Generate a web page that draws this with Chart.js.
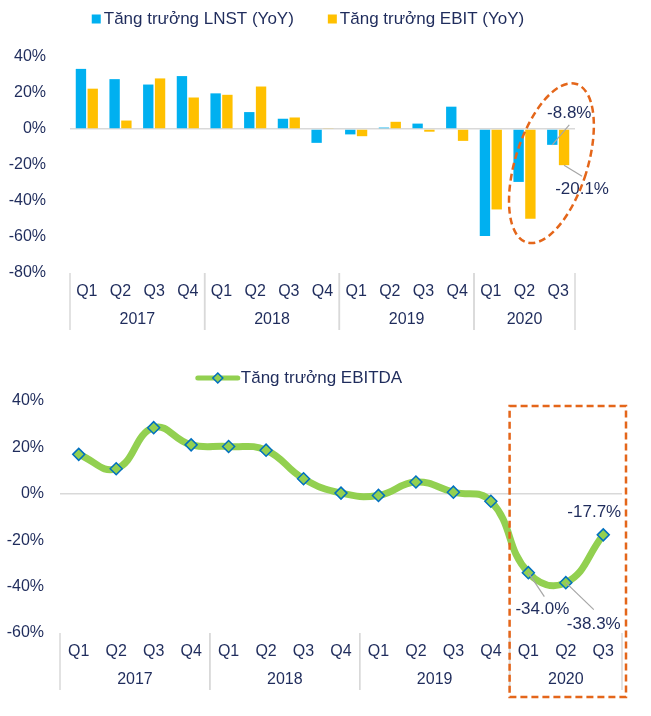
<!DOCTYPE html>
<html>
<head>
<meta charset="utf-8">
<script src="https://cdn.jsdelivr.net/npm/chart.js@4.4.0/dist/chart.umd.min.js"></script>
<style>
  body { margin: 0; background: #fff; }
  canvas { display: block; }
</style>
</head>
<body>
<canvas id="topChart" width="651" height="340"></canvas>
<canvas id="bottomChart" width="651" height="376"></canvas>
<script>
// data
const quarters = ['Q1', 'Q2', 'Q3', 'Q4', 'Q1', 'Q2', 'Q3', 'Q4', 'Q1', 'Q2', 'Q3', 'Q4', 'Q1', 'Q2', 'Q3'];
const years = ['2017', '2018', '2019', '2020'];
const quartersPerYear = [4, 4, 4, 3];
const lnstGrowth = [33.4, 27.7, 24.7, 29.4, 19.8, 9.4, 5.7, -7.7, -3.0, 0.8, 3.0, 12.4, -59.4, -29.4, -8.8];
const ebitGrowth = [22.4, 4.7, 28.1, 17.5, 19.0, 23.6, 6.4, 0.5, -4.0, 4.0, -1.5, -6.6, -44.7, -49.8, -20.1];
const ebitdaGrowth = [17.0, 10.8, 28.5, 21.1, 20.4, 18.8, 6.5, 0.3, -0.7, 5.1, 0.7, -3.2, -34.0, -38.3, -17.7];
const topTicks = [-80, -60, -40, -20, 0, 20, 40];
const bottomTicks = [-60, -40, -20, 0, 20, 40];

const FONT = "'Liberation Sans', Arial, sans-serif";
const NAVY = '#1f2c5c';
const BLUE = '#00b0f0';
const YELLOW = '#ffc000';
const GREEN = '#92d050';
const ORANGE = '#e4661a';

// year row under the quarter labels, with separators
const yearGroups = {
  id: 'yearGroups',
  afterDraw(chart) {
    const x = chart.scales.x;
    const area = chart.chartArea;
    const ctx = chart.ctx;
    const half = (x.getPixelForValue(1) - x.getPixelForValue(0)) / 2;
    ctx.save();
    ctx.strokeStyle = '#d9d9d9';
    ctx.lineWidth = 1.5;
    ctx.fillStyle = NAVY;
    ctx.font = '16px ' + FONT;
    ctx.textAlign = 'center';
    ctx.textBaseline = 'middle';
    let start = 0;
    years.forEach((y, i) => {
      const end = start + quartersPerYear[i] - 1;
      const l = x.getPixelForValue(start) - half;
      const r = x.getPixelForValue(end) + half;
      [l, r].forEach(px => {
        ctx.beginPath();
        ctx.moveTo(px, area.bottom);
        ctx.lineTo(px, area.bottom + 57);
        ctx.stroke();
      });
      ctx.fillText(y, (l + r) / 2, area.bottom + 47);
      start = end + 1;
    });
    ctx.restore();
  }
};

// value labels with leader lines
const valueLabels = {
  id: 'valueLabels',
  afterDatasetsDraw(chart, args, opts) {
    const ctx = chart.ctx;
    ctx.save();
    ctx.font = '17px ' + FONT;
    ctx.fillStyle = NAVY;
    ctx.textAlign = 'center';
    ctx.textBaseline = 'middle';
    ctx.strokeStyle = '#a6a6a6';
    ctx.lineWidth = 1.2;
    (opts.items || []).forEach(it => {
      const el = chart.getDatasetMeta(it.ds).data[it.i];
      const v = chart.data.datasets[it.ds].data[it.i];
      if (it.leader) {
        ctx.beginPath();
        ctx.moveTo(el.x, el.y);
        ctx.lineTo(el.x + it.leader[0], el.y + it.leader[1]);
        ctx.stroke();
      }
      ctx.fillText(v.toFixed(1) + '%', el.x + it.dx, el.y + it.dy);
    });
    ctx.restore();
  }
};

// custom legend row
const legendRow = {
  id: 'legendRow',
  afterDraw(chart, args, opts) {
    const ctx = chart.ctx;
    ctx.save();
    ctx.font = '17px ' + FONT;
    ctx.textBaseline = 'middle';
    ctx.fillStyle = NAVY;
    const items = chart.data.datasets.map(d => ({ d, w: ctx.measureText(d.label).width }));
    const symW = opts.symbolWidth, gap = opts.symbolGap, itemGap = opts.itemGap;
    let total = items.reduce((s, it) => s + symW + gap + it.w, 0) + itemGap * (items.length - 1);
    let x = opts.centerX - total / 2;
    const y = opts.y;
    items.forEach(it => {
      if (chart.config.type === 'bar') {
        ctx.fillStyle = it.d.backgroundColor;
        ctx.fillRect(x, y - 4.5, 9, 9);
      } else {
        ctx.strokeStyle = it.d.borderColor;
        ctx.lineWidth = 5;
        ctx.lineCap = 'round';
        ctx.beginPath();
        ctx.moveTo(x + 2, y);
        ctx.lineTo(x + symW - 2, y);
        ctx.stroke();
        ctx.beginPath();
        ctx.moveTo(x + symW / 2, y - 5);
        ctx.lineTo(x + symW / 2 + 5, y);
        ctx.lineTo(x + symW / 2, y + 5);
        ctx.lineTo(x + symW / 2 - 5, y);
        ctx.closePath();
        ctx.fillStyle = it.d.pointBackgroundColor;
        ctx.fill();
        ctx.strokeStyle = it.d.pointBorderColor;
        ctx.lineWidth = 1.5;
        ctx.stroke();
      }
      ctx.fillStyle = NAVY;
      ctx.fillText(it.d.label, x + symW + gap, y);
      x += symW + gap + it.w + itemGap;
    });
    ctx.restore();
  }
};

// dashed highlight shapes
const highlight = {
  id: 'highlight',
  afterDraw(chart, args, opts) {
    const ctx = chart.ctx;
    const x = chart.scales.x, y = chart.scales.y, area = chart.chartArea;
    ctx.save();
    ctx.strokeStyle = ORANGE;
    ctx.lineWidth = 2.5;
    ctx.setLineDash([7, 4]);
    ctx.beginPath();
    if (opts.shape === 'ellipse') {
      ctx.ellipse(x.getPixelForValue(opts.cx), y.getPixelForValue(opts.cy), opts.rx, opts.ry, opts.rot, 0, Math.PI * 2);
    } else {
      const half = (x.getPixelForValue(1) - x.getPixelForValue(0)) / 2;
      const l = x.getPixelForValue(opts.from) - half;
      ctx.rect(l, area.top + 5, area.right + 4 - l, area.bottom - area.top + 59);
    }
    ctx.stroke();
    ctx.restore();
  }
};

function yScale(ticks, width, pad) {
  return {
    min: ticks[0],
    max: ticks[ticks.length - 1],
    afterFit: s => { s.width = width; },
    afterBuildTicks: s => { s.ticks = ticks.map(v => ({ value: v })); },
    border: { display: false },
    grid: {
      drawTicks: false,
      color: c => (c.tick && c.tick.value === 0 ? '#d9d9d9' : 'transparent'),
      lineWidth: 1.5
    },
    ticks: {
      padding: pad,
      color: NAVY,
      font: { family: FONT, size: 16 },
      callback: v => v + '%'
    }
  };
}

function xScale(height) {
  return {
    offset: true,
    afterFit: s => { s.height = height; },
    border: { display: false },
    grid: { display: false, drawTicks: false },
    ticks: {
      padding: 9,
      color: NAVY,
      maxRotation: 0,
      autoSkip: false,
      font: { family: FONT, size: 16 }
    }
  };
}

new Chart(document.getElementById('topChart'), {
  type: 'bar',
  data: {
    labels: quarters,
    datasets: [
      { label: 'Tăng trưởng LNST (YoY)', data: lnstGrowth, backgroundColor: BLUE, categoryPercentage: 0.7, barPercentage: 0.88 },
      { label: 'Tăng trưởng EBIT (YoY)', data: ebitGrowth, backgroundColor: YELLOW, categoryPercentage: 0.7, barPercentage: 0.88 }
    ]
  },
  options: {
    responsive: false,
    animation: false,
    layout: { padding: { top: 57, right: 76, left: 0, bottom: 0 } },
    scales: { x: xScale(67), y: yScale(topTicks, 70, 24) },
    plugins: {
      legend: { display: false },
      tooltip: { enabled: false },
      legendRow: { centerX: 308, y: 19, symbolWidth: 9, symbolGap: 3, itemGap: 34 },
      highlight: { shape: 'ellipse', cx: 13.8, cy: -19, rx: 36, ry: 83, rot: 0.305 },
      valueLabels: {
        items: [
          { ds: 0, i: 14, dx: 17, dy: -32, leader: [17, -20] },
          { ds: 1, i: 14, dx: 18, dy: 24, leader: [18, 11] }
        ]
      }
    }
  },
  plugins: [yearGroups, valueLabels, legendRow, highlight]
});

new Chart(document.getElementById('bottomChart'), {
  type: 'line',
  data: {
    labels: quarters,
    datasets: [
      {
        label: 'Tăng trưởng EBITDA',
        data: ebitdaGrowth,
        borderColor: GREEN,
        borderWidth: 7,
        tension: 0.45,
        pointStyle: 'rectRot',
        pointRadius: 6,
        pointBackgroundColor: GREEN,
        pointBorderColor: '#0070c0',
        pointBorderWidth: 1.5
      }
    ]
  },
  options: {
    responsive: false,
    animation: false,
    layout: { padding: { top: 61, right: 29, left: 0, bottom: 0 } },
    scales: { x: xScale(83), y: yScale(bottomTicks, 60, 16) },
    plugins: {
      legend: { display: false },
      tooltip: { enabled: false },
      legendRow: { centerX: 299, y: 38, symbolWidth: 44, symbolGap: 1, itemGap: 20 },
      highlight: { shape: 'rect', from: 12 },
      valueLabels: {
        items: [
          { ds: 0, i: 12, dx: 14, dy: 37, leader: [16, 24] },
          { ds: 0, i: 13, dx: 28, dy: 42, leader: [28, 27] },
          { ds: 0, i: 14, dx: -9, dy: -23, leader: null }
        ]
      }
    }
  },
  plugins: [yearGroups, valueLabels, legendRow, highlight]
});
</script>
</body>
</html>
